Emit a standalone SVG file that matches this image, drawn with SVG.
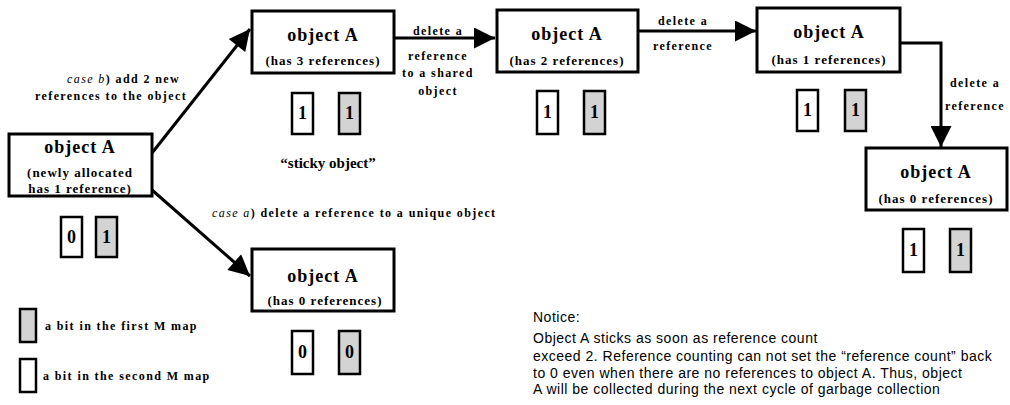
<svg xmlns="http://www.w3.org/2000/svg" width="1010" height="405" viewBox="0 0 1010 405">
<style>
.box{fill:#fff;stroke:#000;stroke-width:3}
.bw{fill:#fff;stroke:#000;stroke-width:2.5}
.bg{fill:#d3d3d3;stroke:#000;stroke-width:2.5}
.t1{font-family:"Liberation Serif",serif;font-weight:bold;font-size:18px;letter-spacing:1px;text-anchor:middle}
.t2{font-family:"Liberation Serif",serif;font-weight:bold;font-size:13px;letter-spacing:1px;text-anchor:middle}
.lb{font-family:"Liberation Serif",serif;font-weight:bold;font-size:12px;letter-spacing:1.4px}
.lbm{font-family:"Liberation Serif",serif;font-weight:bold;font-size:12px;letter-spacing:1.4px;text-anchor:middle}
.it{font-style:italic;font-weight:normal}
.dg{font-family:"Liberation Serif",serif;font-weight:bold;font-size:18px;text-anchor:middle}
.nt{font-family:"Liberation Sans",sans-serif;font-size:14px;letter-spacing:0.5px}
.ln{fill:none;stroke:#000;stroke-width:3}
</style>
<defs>
<marker id="ah" viewBox="0 0 10 10" refX="10" refY="5" markerWidth="9.5" markerHeight="7" markerUnits="strokeWidth" orient="auto">
<path d="M0,0 L10,5 L0,10 z" fill="#000"/>
</marker>
</defs>
<g id="connectors">
<line class="ln" x1="152" y1="153" x2="250" y2="29" marker-end="url(#ah)"/>
<line class="ln" x1="152" y1="190" x2="250" y2="276" marker-end="url(#ah)"/>
<line class="ln" x1="394" y1="38" x2="495" y2="38" marker-end="url(#ah)"/>
<line class="ln" x1="638" y1="31" x2="756" y2="31" marker-end="url(#ah)"/>
<polyline class="ln" points="900,43 941,43 941,147" marker-end="url(#ah)"/>
<text class="lb" x="67" y="83"><tspan class="it">case b</tspan>) add 2 new</text>
<text class="lb" x="35" y="100">references to the object</text>
<text class="lb" x="212" y="217"><tspan class="it">case a</tspan>) delete a reference to a unique object</text>
<text class="lbm" x="438" y="35">delete a</text>
<text class="lbm" x="438" y="60">reference</text>
<text class="lbm" x="438" y="77">to a shared</text>
<text class="lbm" x="438" y="95">object</text>
<text class="lbm" x="683" y="25">delete a</text>
<text class="lbm" x="683" y="50">reference</text>
<text class="lbm" x="975" y="87">delete a</text>
<text class="lbm" x="975" y="110">reference</text>
</g>
<g id="node1">
<rect class="box" x="9" y="134" width="143" height="62"/>
<text class="t1" x="80" y="153">object A</text>
<text class="t2" x="80" y="177">(newly allocated</text>
<text class="t2" x="80" y="193">has 1 reference)</text>
<rect class="bw" x="61" y="217" width="21" height="40"/>
<text class="dg" x="71.5" y="243">0</text>
<rect class="bg" x="96" y="217" width="21" height="40"/>
<text class="dg" x="106.5" y="243">1</text>
</g>
<g id="node2">
<rect class="box" x="252" y="11" width="142" height="62"/>
<text class="t1" x="323" y="41">object A</text>
<text class="t2" x="323" y="65">(has 3 references)</text>
<rect class="bw" x="292" y="93" width="21" height="41"/>
<text class="dg" x="302.5" y="119">1</text>
<rect class="bg" x="339" y="93" width="21" height="41"/>
<text class="dg" x="349.5" y="119">1</text>
<text x="328" y="168" font-family="Liberation Serif,serif" font-weight="bold" font-size="15" text-anchor="middle">“sticky object”</text>
</g>
<g id="node3">
<rect class="box" x="497" y="10" width="141" height="62"/>
<text class="t1" x="567" y="40">object A</text>
<text class="t2" x="567" y="65">(has 2 references)</text>
<rect class="bw" x="537" y="91" width="21" height="43"/>
<text class="dg" x="547.5" y="118">1</text>
<rect class="bg" x="584" y="91" width="21" height="43"/>
<text class="dg" x="594.5" y="118">1</text>
</g>
<g id="node5">
<rect class="box" x="757" y="8" width="143" height="64"/>
<text class="t1" x="829" y="38">object A</text>
<text class="t2" x="829" y="64">(has 1 references)</text>
<rect class="bw" x="797" y="90" width="21" height="41"/>
<text class="dg" x="807.5" y="116">1</text>
<rect class="bg" x="845" y="90" width="21" height="41"/>
<text class="dg" x="855.5" y="116">1</text>
</g>
<g id="node6">
<rect class="box" x="866" y="148" width="141" height="62"/>
<text class="t1" x="936" y="178">object A</text>
<text class="t2" x="936" y="203">(has 0 references)</text>
<rect class="bw" x="903" y="229" width="21" height="43"/>
<text class="dg" x="913.5" y="256">1</text>
<rect class="bg" x="950" y="229" width="21" height="43"/>
<text class="dg" x="960.5" y="256">1</text>
</g>
<g id="node4">
<rect class="box" x="252" y="249" width="142" height="62"/>
<text class="t1" x="323" y="282">object A</text>
<text class="t2" x="325" y="305">(has 0 references)</text>
<rect class="bw" x="292" y="331" width="21" height="43"/>
<text class="dg" x="302.5" y="358">0</text>
<rect class="bg" x="339" y="331" width="21" height="43"/>
<text class="dg" x="349.5" y="358">0</text>
</g>
<g id="legend">
<rect class="bg" x="20" y="309" width="16" height="33"/>
<text class="lb" x="45" y="330">a bit in the first M map</text>
<rect class="bw" x="20" y="359" width="16" height="33"/>
<text class="lb" x="43" y="380">a bit in the second M map</text>
</g>
<g id="notice">
<text class="nt" x="533" y="322">Notice:</text>
<text class="nt" x="533" y="343">Object A sticks as soon as reference count</text>
<text class="nt" x="533" y="361">exceed 2. Reference counting can not set the “reference count” back</text>
<text class="nt" x="533" y="378">to 0 even when there are no references to object A. Thus, object</text>
<text class="nt" x="533" y="394">A will be collected during the next cycle of garbage collection</text>
</g>
</svg>
